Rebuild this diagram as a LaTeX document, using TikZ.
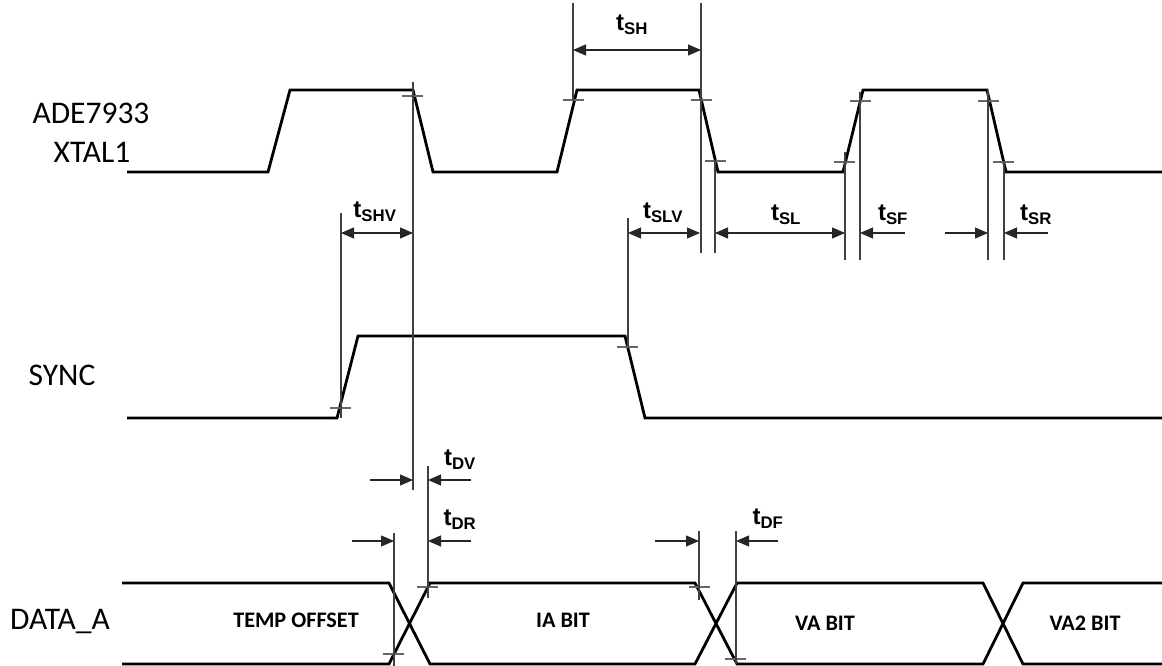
\documentclass[tikz,border=0pt]{standalone}
\usepackage{fontspec}
\setmainfont{Carlito}
\newfontfamily\arialfont{Liberation Sans}
\usetikzlibrary{arrows.meta,positioning}

\newcommand{\tlab}[1]{{\arialfont\bfseries t\textsubscript{#1}}}

\begin{document}
\begin{tikzpicture}[x=1pt,y=-1pt,>={Triangle[length=13pt,width=11pt]},
  wave/.style={line width=2.8pt,line join=miter},
  guide/.style={line width=1.1pt,black!75},
  tick/.style={line width=1.1pt,black!60},
  dim/.style={line width=1.1pt,black!85},
  sig/.style={font=\fontsize{31.5}{33}\selectfont},
  cell/.style={font=\fontsize{22.2}{24}\selectfont\bfseries},
  tname/.style={font=\fontsize{24}{26}\selectfont}]
  \useasboundingbox (0,0) rectangle (1162,666);

  % signal names
  \node[sig] (xt1) at (91,113) {ADE7933};
  \node[sig] (xt2) at (92,152) {XTAL1};
  \node[sig] (sync) at (62,375) {SYNC};
  \node[sig] (data) at (60,622) {DATA\_A};

  % waveforms
  \draw[wave] (127,172) -- (268,172) -- (290,90) -- (413,90) -- (433,172) -- (557,172) -- (577,90) -- (699,90) -- (718,172) -- (843,172) -- (863,90) -- (987,90) -- (1006,172) -- (1162,172);
  \draw[wave] (127,418) -- (337,418) -- (358,336) -- (625,336) -- (645,418) -- (1162,418);
  \draw[wave] (122,583) -- (389,583) -- (430,664) -- (695,664) -- (737,583) -- (983,583) -- (1023,664) -- (1162,664);
  \draw[wave] (122,664) -- (389,664) -- (430,583) -- (695,583) -- (737,664) -- (983,664) -- (1023,583) -- (1162,583);

  \node[cell] (temp) at (296,620) {TEMP OFFSET};
  \node[cell] (ia) at (563,620) {IA BIT};
  \node[cell] (va) at (825,623) {VA BIT};
  \node[cell] (va2) at (1085,623) {VA2 BIT};

  % threshold ticks
  \foreach \x/\y in {402/96,563/100,691/100,705/161,834/162,850/101,978/101,993/162,330/408,617/347,417/587,383/654,689/587,725/659}
    \draw[tick] (\x,\y) -- ++(21,0);

  % guide lines
  \foreach \x/\ya/\yb in {413/82/490,573/3/100,701/3/253,715/160/253,845/152/260,860/92/260,988/90/260,1004/162/260,341/213/418,628/218/347,428/466/598,394/533/666,699/531/600,736/531/664}
    \draw[guide] (\x,\ya) -- (\x,\yb);

  % tSH
  \coordinate (sh-l) at (573,50);
  \coordinate (sh-r) at (701,50);
  \draw[dim,<->] (sh-l) -- (sh-r);
  \node[tname] (tsh) at (632,25) {\tlab{SH}};

  % tSHV, tSLV, tSL, tSF, tSR
  \coordinate (shv-l) at (341,233);
  \coordinate (shv-r) at (413,233);
  \draw[dim,<->] (shv-l) -- (shv-r);
  \node[tname] (tshv) at (375,212) {\tlab{SHV}};
  \coordinate (slv-l) at (628,233);
  \coordinate (slv-r) at (700,233);
  \draw[dim,<->] (slv-l) -- (slv-r);
  \node[tname] (tslv) at (663,213) {\tlab{SLV}};
  \coordinate (sl-l) at (715,233);
  \coordinate (sl-r) at (845,233);
  \draw[dim,<->] (sl-l) -- (sl-r);
  \node[tname] (tsl) at (786,215) {\tlab{SL}};
  \coordinate (sf-o) at (905,233);
  \coordinate (sf-r) at (860,233);
  \draw[dim,->] (sf-o) -- (sf-r);
  \node[tname] (tsf) at (893,215) {\tlab{SF}};
  \coordinate (sr-a) at (945,233);
  \coordinate (sr-l) at (988,233);
  \coordinate (sr-b) at (1048,233);
  \coordinate (sr-r) at (1004,233);
  \draw[dim,->] (sr-a) -- (sr-l);
  \draw[dim,->] (sr-b) -- (sr-r);
  \node[tname] (tsr) at (1036,215) {\tlab{SR}};

  % tDV, tDR, tDF
  \coordinate (dv-a) at (370,480);
  \coordinate (dv-l) at (413,480);
  \coordinate (dv-b) at (471,480);
  \coordinate (dv-r) at (428,480);
  \draw[dim,->] (dv-a) -- (dv-l);
  \draw[dim,->] (dv-b) -- (dv-r);
  \node[tname] (tdv) at (460,460) {\tlab{DV}};
  \coordinate (dr-a) at (352,541);
  \coordinate (dr-l) at (394,541);
  \coordinate (dr-b) at (471,541);
  \coordinate (dr-r) at (428,541);
  \draw[dim,->] (dr-a) -- (dr-l);
  \draw[dim,->] (dr-b) -- (dr-r);
  \node[tname] (tdr) at (460,520) {\tlab{DR}};
  \coordinate (df-a) at (655,541);
  \coordinate (df-l) at (699,541);
  \coordinate (df-b) at (778,541);
  \coordinate (df-r) at (736,541);
  \draw[dim,->] (df-a) -- (df-l);
  \draw[dim,->] (df-b) -- (df-r);
  \node[tname] (tdf) at (768,519) {\tlab{DF}};
\end{tikzpicture}
\end{document}
